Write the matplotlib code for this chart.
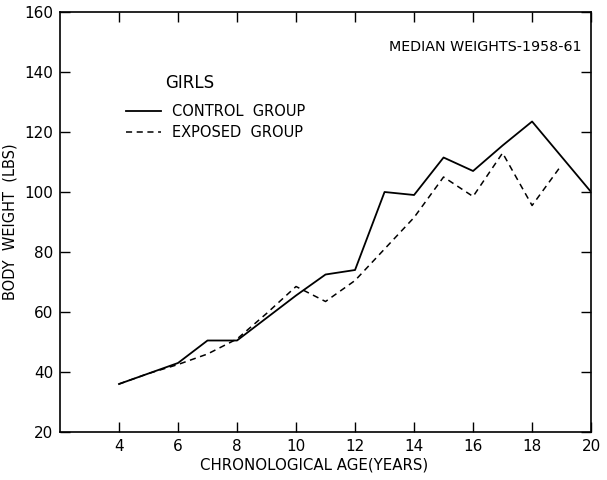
import numpy as np
import matplotlib
matplotlib.use("Agg")
import matplotlib.pyplot as plt

# median weights, girls
control_age = [4, 5, 6, 7, 8, 9, 10, 11, 12, 13, 14, 15, 16, 17, 18, 20]
control_wt = [36, 39.5, 43, 50.5, 50.5, 58, 65.5, 72.5, 74, 100, 99, 111.5, 107, 115.5, 123.5, 100]
exposed_age = [4, 5, 6, 7, 8, 9, 10, 11, 12, 13, 14, 15, 16, 17, 18, 19]
exposed_wt = [36, 39.5, 42.5, 46, 51, 59.5, 68.5, 63.5, 70.5, 81, 91.5, 105, 98.5, 113, 95.5, 109]

x_ticks = [4, 6, 8, 10, 12, 14, 16, 18, 20]
y_ticks = [20, 40, 60, 80, 100, 120, 140, 160]

plt.rcParams['font.family'] = 'DejaVu Sans'

fig = plt.figure(figsize=(6.07, 4.8), dpi=100)
ax = fig.add_axes([0.0988, 0.1, 0.875, 0.875])

ax.plot(control_age, control_wt, color='black', lw=1.3, label='CONTROL  GROUP')
ax.plot(exposed_age, exposed_wt, color='black', lw=1.1, ls=(0, (4, 3)), label='EXPOSED  GROUP')

ax.set_xlim(2, 20)
ax.set_ylim(20, 160)
ax.set_xticks(x_ticks)
ax.set_yticks(y_ticks)
ax.tick_params(direction='in', length=7, width=1, labelsize=11,
               top=True, right=True, pad=5)
for s in ax.spines.values():
    s.set_linewidth(1.2)

ax.set_xlabel('CHRONOLOGICAL AGE(YEARS)', fontsize=10.8)
ax.xaxis.set_label_coords(0.478, -0.06)
ax.set_ylabel('BODY  WEIGHT  (LBS)', fontsize=10.5)
ax.yaxis.set_label_coords(-0.08, 0.5)

ax.text(0.982, 0.917, 'MEDIAN WEIGHTS-1958-61', transform=ax.transAxes,
        ha='right', va='center', fontsize=10.3)
ax.text(0.198, 0.83, 'GIRLS', transform=ax.transAxes,
        ha='left', va='center', fontsize=12)

leg = ax.legend(loc='upper left', bbox_to_anchor=(0.113, 0.795), frameon=False,
                fontsize=10.5, handlelength=2.4, handletextpad=0.8, labelspacing=0.4,
                borderaxespad=0)

plt.savefig('out.png', dpi=100)
